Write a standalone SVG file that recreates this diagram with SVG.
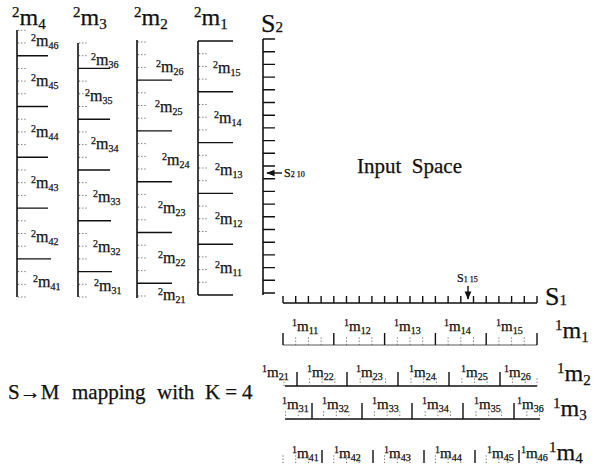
<svg xmlns="http://www.w3.org/2000/svg" width="594" height="467" viewBox="0 0 594 467">
<style>
text{font-family:"Liberation Serif","Times New Roman",serif;fill:#111;stroke:#111;stroke-width:0.25}
.ln{stroke:#111;stroke-width:1.6;fill:none}
.tk{stroke:#111;stroke-width:1.4;fill:none}
.th{stroke:#444;stroke-width:0.9;fill:none}
.dt{stroke:#666;stroke-width:1;stroke-dasharray:1.2 2;fill:none}
.lb{font-size:16px}
.rl{font-size:15px}
.sp{font-size:10px}
.sb{font-size:10px}
.hd{font-size:24px}
.hs{font-size:15px}
.ax{font-size:26px}
.as{font-size:15px}
.sm{font-size:12px}
.ss{font-size:8px}
</style>
<defs>
<marker id="ah" viewBox="0 0 10 10" refX="9" refY="5" markerWidth="6" markerHeight="6" orient="auto"><path d="M0 1 L10 5 L0 9 Z" fill="#111"/></marker>
</defs>

<g id="col-2m4">
<text class="hd" x="12" y="25"><tspan class="hs" dy="-8">2</tspan><tspan dy="8">m</tspan><tspan class="hs" dy="4">4</tspan></text>
<path class="ln" d="M17 30 V297"/>
<path class="tk" d="M17 55.7 H48 M17 106.5 H48 M17 157.3 H48 M17 208.1 H48 M17 258.9 H51"/>
<path class="dt" d="M18 30.3 h9 M18 43 h9 M18 68.4 h9 M18 81.1 h9 M18 93.8 h9 M18 119.2 h9 M18 131.9 h9 M18 144.6 h9 M18 170 h9 M18 182.7 h9 M18 195.4 h9 M18 220.8 h9 M18 233.5 h9 M18 246.2 h9 M18 271.6 h9 M18 284.3 h9 M18 297 h9"/>
<text class="lb" x="31" y="46"><tspan class="sp" dy="-5">2</tspan><tspan dy="5">m</tspan><tspan class="sb" dy="3">46</tspan></text>
<text class="lb" x="31" y="86"><tspan class="sp" dy="-5">2</tspan><tspan dy="5">m</tspan><tspan class="sb" dy="3">45</tspan></text>
<text class="lb" x="31" y="137"><tspan class="sp" dy="-5">2</tspan><tspan dy="5">m</tspan><tspan class="sb" dy="3">44</tspan></text>
<text class="lb" x="31" y="188"><tspan class="sp" dy="-5">2</tspan><tspan dy="5">m</tspan><tspan class="sb" dy="3">43</tspan></text>
<text class="lb" x="31" y="242"><tspan class="sp" dy="-5">2</tspan><tspan dy="5">m</tspan><tspan class="sb" dy="3">42</tspan></text>
<text class="lb" x="33" y="287"><tspan class="sp" dy="-5">2</tspan><tspan dy="5">m</tspan><tspan class="sb" dy="3">41</tspan></text>
</g>

<g id="col-2m3">
<text class="hd" x="73" y="25"><tspan class="hs" dy="-8">2</tspan><tspan dy="8">m</tspan><tspan class="hs" dy="4">3</tspan></text>
<path class="ln" d="M78 43 V297"/>
<path class="tk" d="M78 68.4 H110 M78 119.2 H110 M78 170 H110 M78 220.8 H111 M78 271.6 H112"/>
<path class="dt" d="M79 43 h9 M79 55.7 h9 M79 81.1 h9 M79 93.8 h9 M79 106.5 h9 M79 131.9 h9 M79 144.6 h9 M79 157.3 h9 M79 182.7 h9 M79 195.4 h9 M79 208.1 h9 M79 233.5 h9 M79 246.2 h9 M79 258.9 h9 M79 284.3 h9 M79 297 h9"/>
<text class="lb" x="91" y="65"><tspan class="sp" dy="-5">2</tspan><tspan dy="5">m</tspan><tspan class="sb" dy="3">36</tspan></text>
<text class="lb" x="85" y="101"><tspan class="sp" dy="-5">2</tspan><tspan dy="5">m</tspan><tspan class="sb" dy="3">35</tspan></text>
<text class="lb" x="91" y="149"><tspan class="sp" dy="-5">2</tspan><tspan dy="5">m</tspan><tspan class="sb" dy="3">34</tspan></text>
<text class="lb" x="93" y="202"><tspan class="sp" dy="-5">2</tspan><tspan dy="5">m</tspan><tspan class="sb" dy="3">33</tspan></text>
<text class="lb" x="93" y="252"><tspan class="sp" dy="-5">2</tspan><tspan dy="5">m</tspan><tspan class="sb" dy="3">32</tspan></text>
<text class="lb" x="94" y="291"><tspan class="sp" dy="-5">2</tspan><tspan dy="5">m</tspan><tspan class="sb" dy="3">31</tspan></text>
</g>

<g id="col-2m2">
<text class="hd" x="134" y="25"><tspan class="hs" dy="-8">2</tspan><tspan dy="8">m</tspan><tspan class="hs" dy="4">2</tspan></text>
<path class="ln" d="M137 40 V298"/>
<path class="tk" d="M137 80.1 H172 M137 130.9 H172 M137 181.7 H172 M137 232.5 H172 M137 283.3 H172"/>
<path class="dt" d="M138 42 h9 M138 54.7 h9 M138 67.4 h9 M138 92.8 h9 M138 105.5 h9 M138 118.2 h9 M138 143.6 h9 M138 156.3 h9 M138 169 h9 M138 194.4 h9 M138 207.1 h9 M138 219.8 h9 M138 245.2 h9 M138 257.9 h9 M138 270.6 h9 M138 296 h9"/>
<text class="lb" x="156" y="72"><tspan class="sp" dy="-5">2</tspan><tspan dy="5">m</tspan><tspan class="sb" dy="3">26</tspan></text>
<text class="lb" x="155" y="112"><tspan class="sp" dy="-5">2</tspan><tspan dy="5">m</tspan><tspan class="sb" dy="3">25</tspan></text>
<text class="lb" x="162" y="165"><tspan class="sp" dy="-5">2</tspan><tspan dy="5">m</tspan><tspan class="sb" dy="3">24</tspan></text>
<text class="lb" x="158" y="213"><tspan class="sp" dy="-5">2</tspan><tspan dy="5">m</tspan><tspan class="sb" dy="3">23</tspan></text>
<text class="lb" x="158" y="263"><tspan class="sp" dy="-5">2</tspan><tspan dy="5">m</tspan><tspan class="sb" dy="3">22</tspan></text>
<text class="lb" x="158" y="300"><tspan class="sp" dy="-5">2</tspan><tspan dy="5">m</tspan><tspan class="sb" dy="3">21</tspan></text>
</g>

<g id="col-2m1">
<text class="hd" x="194" y="25"><tspan class="hs" dy="-8">2</tspan><tspan dy="8">m</tspan><tspan class="hs" dy="4">1</tspan></text>
<path class="ln" d="M198 41 V295"/>
<path class="tk" d="M198 41 H233 M198 91.8 H233 M198 142.6 H233 M198 193.4 H233 M198 244.2 H233 M198 295 H233"/>
<path class="dt" d="M199 53.7 h9 M199 66.4 h9 M199 79.1 h9 M199 104.5 h9 M199 117.2 h9 M199 129.9 h9 M199 155.3 h9 M199 168 h9 M199 180.7 h9 M199 206.1 h9 M199 218.8 h9 M199 231.5 h9 M199 256.9 h9 M199 269.6 h9 M199 282.3 h9"/>
<text class="lb" x="213" y="73"><tspan class="sp" dy="-5">2</tspan><tspan dy="5">m</tspan><tspan class="sb" dy="3">15</tspan></text>
<text class="lb" x="214" y="123"><tspan class="sp" dy="-5">2</tspan><tspan dy="5">m</tspan><tspan class="sb" dy="3">14</tspan></text>
<text class="lb" x="215" y="175"><tspan class="sp" dy="-5">2</tspan><tspan dy="5">m</tspan><tspan class="sb" dy="3">13</tspan></text>
<text class="lb" x="215" y="224"><tspan class="sp" dy="-5">2</tspan><tspan dy="5">m</tspan><tspan class="sb" dy="3">12</tspan></text>
<text class="lb" x="215" y="273"><tspan class="sp" dy="-5">2</tspan><tspan dy="5">m</tspan><tspan class="sb" dy="3">11</tspan></text>
</g>

<g id="axis-s2">
<text class="ax" x="261" y="32">S<tspan class="as">2</tspan></text>
<path class="ln" d="M263 39 V295"/>
<path class="tk" d="M263 39 h12 M263 51.7 h12 M263 64.4 h12 M263 77.1 h12 M263 89.8 h12 M263 102.5 h12 M263 115.2 h12 M263 127.9 h12 M263 140.6 h12 M263 153.3 h12 M263 166 h12 M263 178.7 h12 M263 191.4 h12 M263 204.1 h12 M263 216.8 h12 M263 229.5 h12 M263 242.2 h12 M263 254.9 h12 M263 267.6 h12 M263 280.3 h12 M263 293 h12"/>
<text class="sm" x="284" y="177">S<tspan class="ss">2 10</tspan></text>
</g>

<g id="axis-s1">
<path class="ln" d="M283 303 H537"/>
<path class="tk" d="M283 303 v-7 M295.7 303 v-7 M308.4 303 v-7 M321.1 303 v-7 M333.8 303 v-7 M346.5 303 v-7 M359.2 303 v-7 M371.9 303 v-7 M384.6 303 v-7 M397.3 303 v-7 M410 303 v-7 M422.7 303 v-7 M435.4 303 v-7 M448.1 303 v-7 M460.8 303 v-7 M473.5 303 v-7 M486.2 303 v-7 M498.9 303 v-7 M511.6 303 v-7 M524.3 303 v-7 M537 303 v-7"/>
<text class="ax" x="545" y="305">S<tspan class="as">1</tspan></text>
<text class="sm" x="457" y="282">S<tspan class="ss">1 15</tspan></text>
</g>

<g id="input-space">
<text x="357" y="173" font-size="21" xml:space="preserve">Input  Space</text>
</g>

<g id="row-1m1">
<path class="th" d="M283 345 H537"/>
<path class="tk" d="M283 333 V345 M333.8 333 V345 M384.6 333 V345 M435.4 333 V345 M486.2 333 V345 M537 333 V345"/>
<path class="dt" d="M295.7 345 v-8 M308.4 345 v-8 M321.1 345 v-8 M346.5 345 v-8 M359.2 345 v-8 M371.9 345 v-8 M397.3 345 v-8 M410 345 v-8 M422.7 345 v-8 M448.1 345 v-8 M460.8 345 v-8 M473.5 345 v-8 M498.9 345 v-8 M511.6 345 v-8 M524.3 345 v-8"/>
<text class="rl" x="292" y="331"><tspan class="sp" dy="-5">1</tspan><tspan dy="5">m</tspan><tspan class="sb" dy="3">11</tspan></text>
<text class="rl" x="344" y="331"><tspan class="sp" dy="-5">1</tspan><tspan dy="5">m</tspan><tspan class="sb" dy="3">12</tspan></text>
<text class="rl" x="394" y="331"><tspan class="sp" dy="-5">1</tspan><tspan dy="5">m</tspan><tspan class="sb" dy="3">13</tspan></text>
<text class="rl" x="444" y="331"><tspan class="sp" dy="-5">1</tspan><tspan dy="5">m</tspan><tspan class="sb" dy="3">14</tspan></text>
<text class="rl" x="496" y="331"><tspan class="sp" dy="-5">1</tspan><tspan dy="5">m</tspan><tspan class="sb" dy="3">15</tspan></text>
<text class="hd" x="555" y="338"><tspan class="hs" dy="-8">1</tspan><tspan dy="8">m</tspan><tspan class="hs" dy="4">1</tspan></text>
</g>

<g id="row-1m2">
<path class="ln" d="M285 386 H537"/>
<path class="tk" d="M297 372 V386 M347 372 V386 M398 372 V386 M449 372 V386 M500 372 V386"/>
<path class="dt" d="M284 386 v-8 M309.4 386 v-8 M322.1 386 v-8 M334.8 386 v-8 M360.2 386 v-8 M372.9 386 v-8 M385.6 386 v-8 M411 386 v-8 M423.7 386 v-8 M436.4 386 v-8 M461.8 386 v-8 M474.5 386 v-8 M487.2 386 v-8 M512.6 386 v-8 M525.3 386 v-8 M537 386 v-8"/>
<text class="rl" x="262" y="377"><tspan class="sp" dy="-5">1</tspan><tspan dy="5">m</tspan><tspan class="sb" dy="3">21</tspan></text>
<text class="rl" x="307" y="377"><tspan class="sp" dy="-5">1</tspan><tspan dy="5">m</tspan><tspan class="sb" dy="3">22</tspan></text>
<text class="rl" x="356" y="377"><tspan class="sp" dy="-5">1</tspan><tspan dy="5">m</tspan><tspan class="sb" dy="3">23</tspan></text>
<text class="rl" x="409" y="377"><tspan class="sp" dy="-5">1</tspan><tspan dy="5">m</tspan><tspan class="sb" dy="3">24</tspan></text>
<text class="rl" x="461" y="377"><tspan class="sp" dy="-5">1</tspan><tspan dy="5">m</tspan><tspan class="sb" dy="3">25</tspan></text>
<text class="rl" x="504" y="377"><tspan class="sp" dy="-5">1</tspan><tspan dy="5">m</tspan><tspan class="sb" dy="3">26</tspan></text>
<text class="hd" x="557" y="381"><tspan class="hs" dy="-8">1</tspan><tspan dy="8">m</tspan><tspan class="hs" dy="4">2</tspan></text>
</g>

<g id="row-1m3">
<path class="ln" d="M285 419 H540"/>
<path class="tk" d="M312 403 V419 M362 403 V419 M412 403 V419 M463 403 V419 M514 403 V419"/>
<path class="dt" d="M285.5 419 v-8 M298.2 419 v-8 M323.6 419 v-8 M336.3 419 v-8 M349 419 v-8 M374.4 419 v-8 M387.1 419 v-8 M399.8 419 v-8 M425.2 419 v-8 M437.9 419 v-8 M450.6 419 v-8 M476 419 v-8 M488.7 419 v-8 M501.4 419 v-8 M526.8 419 v-8 M539.5 419 v-8"/>
<text class="rl" x="282" y="409"><tspan class="sp" dy="-5">1</tspan><tspan dy="5">m</tspan><tspan class="sb" dy="3">31</tspan></text>
<text class="rl" x="322" y="409"><tspan class="sp" dy="-5">1</tspan><tspan dy="5">m</tspan><tspan class="sb" dy="3">32</tspan></text>
<text class="rl" x="372" y="409"><tspan class="sp" dy="-5">1</tspan><tspan dy="5">m</tspan><tspan class="sb" dy="3">33</tspan></text>
<text class="rl" x="422" y="409"><tspan class="sp" dy="-5">1</tspan><tspan dy="5">m</tspan><tspan class="sb" dy="3">34</tspan></text>
<text class="rl" x="474" y="409"><tspan class="sp" dy="-5">1</tspan><tspan dy="5">m</tspan><tspan class="sb" dy="3">35</tspan></text>
<text class="rl" x="517" y="409"><tspan class="sp" dy="-5">1</tspan><tspan dy="5">m</tspan><tspan class="sb" dy="3">36</tspan></text>
<text class="hd" x="553" y="416"><tspan class="hs" dy="-8">1</tspan><tspan dy="8">m</tspan><tspan class="hs" dy="4">3</tspan></text>
</g>

<g id="row-1m4">
<path class="tk" d="M322 450 V463 M373 450 V463 M424 450 V463 M475 450 V463 M519 450 V463"/>
<path class="dt" d="M283 463 v-8 M295.7 463 v-8 M308.4 463 v-8 M333.8 463 v-8 M346.5 463 v-8 M359.2 463 v-8 M384.6 463 v-8 M397.3 463 v-8 M410 463 v-8 M435.4 463 v-8 M448.1 463 v-8 M460.8 463 v-8 M486.2 463 v-8 M498.9 463 v-8 M508 463 v-8 M537 463 v-8"/>
<text class="rl" x="292" y="458"><tspan class="sp" dy="-5">1</tspan><tspan dy="5">m</tspan><tspan class="sb" dy="3">41</tspan></text>
<text class="rl" x="334" y="458"><tspan class="sp" dy="-5">1</tspan><tspan dy="5">m</tspan><tspan class="sb" dy="3">42</tspan></text>
<text class="rl" x="384" y="458"><tspan class="sp" dy="-5">1</tspan><tspan dy="5">m</tspan><tspan class="sb" dy="3">43</tspan></text>
<text class="rl" x="435" y="458"><tspan class="sp" dy="-5">1</tspan><tspan dy="5">m</tspan><tspan class="sb" dy="3">44</tspan></text>
<text class="rl" x="487" y="458"><tspan class="sp" dy="-5">1</tspan><tspan dy="5">m</tspan><tspan class="sb" dy="3">45</tspan></text>
<text class="rl" x="521" y="458"><tspan class="sp" dy="-5">1</tspan><tspan dy="5">m</tspan><tspan class="sb" dy="3">46</tspan></text>
<text class="hd" x="549" y="460"><tspan class="hs" dy="-8">1</tspan><tspan dy="8">m</tspan><tspan class="hs" dy="3">4</tspan></text>
</g>

<g id="caption">
<text y="399" font-size="21"><tspan x="8">S→M</tspan><tspan x="72">mapping</tspan><tspan x="157">with</tspan><tspan x="205" letter-spacing="5">K=4</tspan></text>
</g>

<g id="connectors">
<path class="tk" d="M282 173 H267" marker-end="url(#ah)"/>
<path class="tk" d="M468 286 V299" marker-end="url(#ah)"/>
</g>
</svg>
